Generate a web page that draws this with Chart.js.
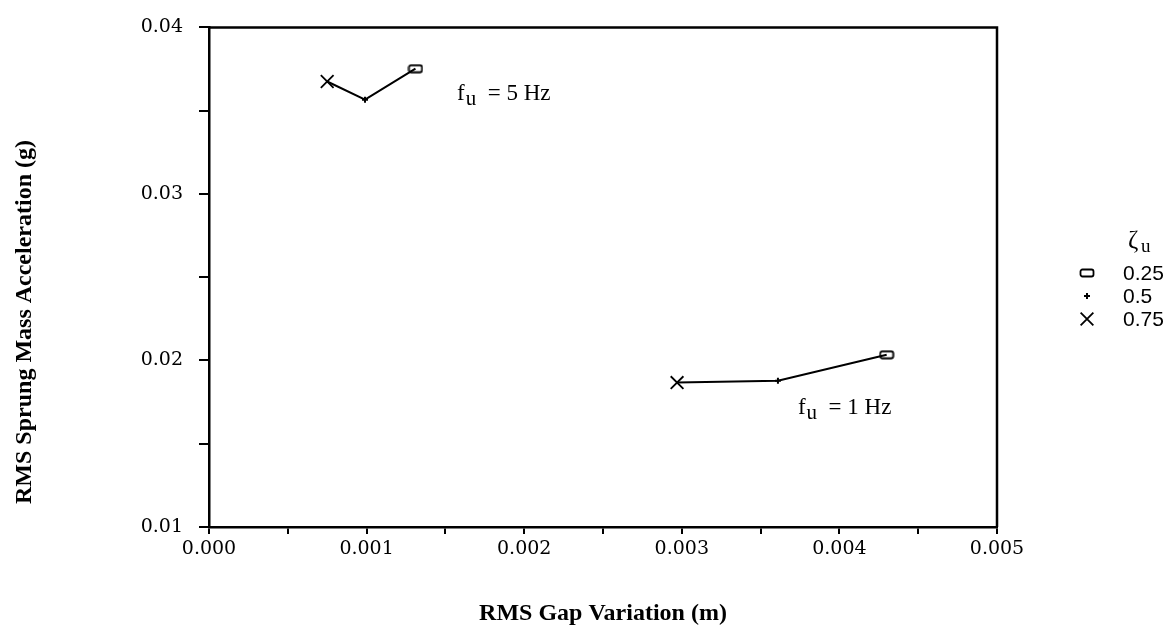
<!DOCTYPE html>
<html>
<head>
<meta charset="utf-8">
<script src="https://cdn.jsdelivr.net/npm/chart.js@4.4.0/dist/chart.umd.min.js"></script>
<style>
  html, body { margin: 0; padding: 0; background: #fff; }
  #wrap { width: 1175px; height: 630px; }
</style>
</head>
<body>
<div id="wrap"><canvas id="grafico"></canvas></div>
<script>
// Valores (zeta_u de cada punto, en orden de la línea)
const zetaValores = [0.75, 0.5, 0.25];
const gap5Hz = [0.00075, 0.00099, 0.00131];
const acel5Hz = [0.03675, 0.03566, 0.03752];
const gap1Hz = [0.00297, 0.00361, 0.00430];
const acel1Hz = [0.01867, 0.01878, 0.02034];
const ticksX = [0.000, 0.001, 0.002, 0.003, 0.004, 0.005];
const ticksY = [0.01, 0.02, 0.03, 0.04];
const leyendaZeta = ['0.25', '0.5', '0.75'];

// Posición de las etiquetas f_u en coordenadas de datos
const etiquetas = [
    { x: 0.001574, y: 0.03564, valor: '5 Hz' },
    { x: 0.003737, y: 0.01681, valor: '1 Hz' }
];

// Marca rectangular aplanada para zeta = 0.25
function marcaRect() {
    const c = document.createElement('canvas');
    c.width = 16; c.height = 10;
    const g = c.getContext('2d');
    g.lineWidth = 1.8;
    g.strokeStyle = '#000';
    g.beginPath();
    if (g.roundRect) g.roundRect(1.5, 1.5, 13, 7, 2);
    else g.rect(1.5, 1.5, 13, 7);
    g.stroke();
    return c;
}
const rectImg = marcaRect();

const estilos = {
    0.75: { pointStyle: 'crossRot', radius: 9, width: 1.8 },
    0.5: { pointStyle: 'cross', radius: 3, width: 2 },
    0.25: { pointStyle: rectImg, radius: 6, width: 1 }
};

function serie(xs, ys) {
    return {
        data: xs.map((x, i) => ({ x: x, y: ys[i] })),
        showLine: true,
        borderColor: '#000',
        borderWidth: 2,
        backgroundColor: '#000',
        pointStyle: zetaValores.map(z => estilos[z].pointStyle),
        pointRadius: zetaValores.map(z => estilos[z].radius),
        pointBorderWidth: zetaValores.map(z => estilos[z].width),
        pointBorderColor: '#000'
    };
}

function esTick(v, lista) {
    return lista.some(t => Math.abs(t - v) < 1e-9);
}

// Dibujo de lo que Chart.js no trae: marco, título Y, etiquetas y leyenda
const extras = {
    id: 'extras',
    afterDraw(chart) {
        const ctx = chart.ctx;
        const a = chart.chartArea;
        const sx = chart.scales.x, sy = chart.scales.y;
        ctx.save();
        ctx.strokeStyle = '#000';
        ctx.lineWidth = 2.5;
        ctx.beginPath();
        ctx.moveTo(a.left, a.top);
        ctx.lineTo(a.right, a.top);
        ctx.lineTo(a.right, a.bottom);
        ctx.stroke();

        ctx.fillStyle = '#000';
        // título eje Y
        ctx.save();
        ctx.translate(25, 322);
        ctx.rotate(-Math.PI / 2);
        ctx.font = 'bold 24px "Liberation Serif"';
        ctx.textAlign = 'center';
        ctx.textBaseline = 'middle';
        ctx.fillText('RMS Sprung Mass Acceleration (g)', 0, 0);
        ctx.restore();

        // etiquetas f_u
        ctx.textBaseline = 'alphabetic';
        ctx.textAlign = 'left';
        etiquetas.forEach(e => {
            let x = sx.getPixelForValue(e.x);
            const y = sy.getPixelForValue(e.y);
            ctx.font = '23px "Liberation Serif"';
            ctx.fillText('f', x, y);
            x += ctx.measureText('f').width + 1;
            ctx.font = '21px "Liberation Serif"';
            ctx.fillText('u', x, y + 5);
            x += ctx.measureText('u').width;
            ctx.font = '23px "Liberation Serif"';
            ctx.fillText('  = ' + e.valor, x, y);
        });

        // leyenda zeta_u
        ctx.font = '25px "Liberation Serif"';
        ctx.fillText('ζ', 1128, 248);
        ctx.font = '19px "Liberation Serif"';
        ctx.fillText('u', 1141, 252);
        ctx.font = '21px "Liberation Sans"';
        ctx.textBaseline = 'middle';
        const orden = [0.25, 0.5, 0.75];
        orden.forEach((z, i) => {
            const y = 273 + i * 23;
            const e = estilos[z];
            ctx.lineWidth = e.width;
            Chart.helpers.drawPoint(ctx, {
                pointStyle: e.pointStyle,
                radius: e.radius,
                borderWidth: e.width,
                rotation: 0
            }, 1087, y);
            ctx.fillText(leyendaZeta[i], 1123, y + 1);
        });
        ctx.restore();
    }
};

new Chart(document.getElementById('grafico'), {
    type: 'scatter',
    data: {
        datasets: [serie(gap5Hz, acel5Hz), serie(gap1Hz, acel1Hz)]
    },
    options: {
        responsive: true,
        maintainAspectRatio: false,
        animation: false,
        layout: { padding: { top: 25, right: 178, bottom: 0, left: 0 } },
        plugins: {
            legend: { display: false },
            tooltip: { enabled: false }
        },
        scales: {
            x: {
                type: 'linear',
                min: 0,
                max: 0.005,
                afterFit: s => { s.height = 103; },
                border: { color: '#000', width: 2.5 },
                grid: {
                    drawOnChartArea: false,
                    drawTicks: true,
                    tickLength: 7,
                    color: '#000',
                    lineWidth: 2
                },
                ticks: {
                    stepSize: 0.0005,
                    autoSkip: false,
                    maxRotation: 0,
                    padding: 4,
                    color: '#000',
                    font: { family: '"DejaVu Serif"', size: 19 },
                    callback: v => esTick(v, ticksX) ? v.toFixed(3) : ''
                },
                title: {
                    display: true,
                    text: 'RMS Gap Variation (m)',
                    color: '#000',
                    font: { family: '"Liberation Serif"', size: 24, weight: 'bold' },
                    padding: { top: 0, bottom: 2 }
                }
            },
            y: {
                type: 'linear',
                min: 0.01,
                max: 0.04,
                afterFit: s => { s.width = 209; },
                border: { color: '#000', width: 2.5 },
                grid: {
                    drawOnChartArea: false,
                    drawTicks: true,
                    tickLength: 10,
                    color: '#000',
                    lineWidth: 2
                },
                ticks: {
                    stepSize: 0.005,
                    autoSkip: false,
                    padding: 16,
                    color: '#000',
                    font: { family: '"DejaVu Serif"', size: 19 },
                    callback: v => esTick(v, ticksY) ? v.toFixed(2) : ''
                }
            }
        }
    },
    plugins: [extras]
});
</script>
</body>
</html>
